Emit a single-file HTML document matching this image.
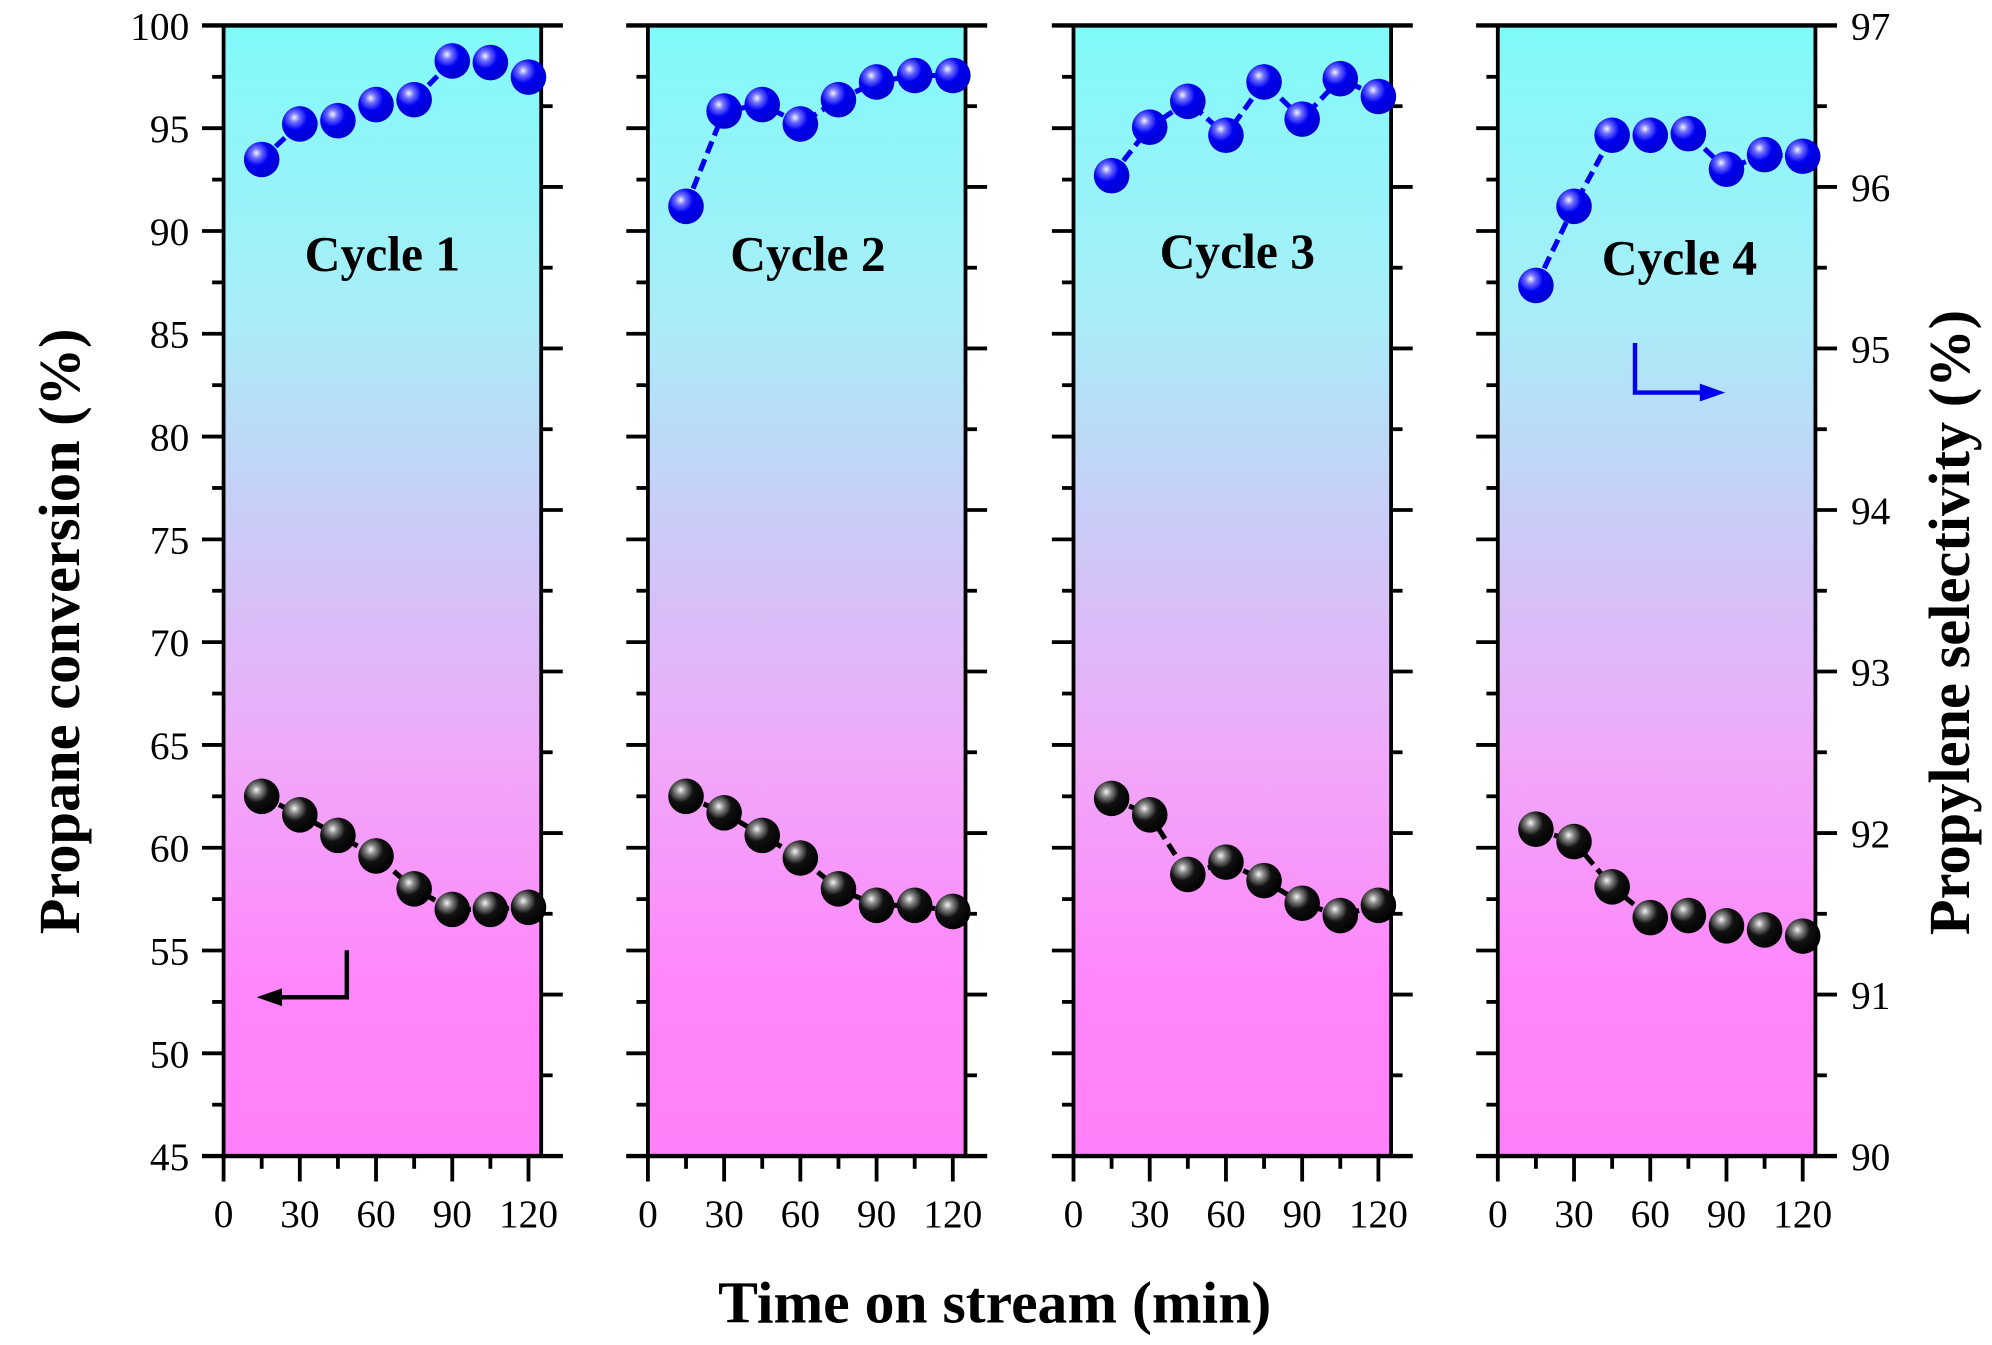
<!DOCTYPE html>
<html><head><meta charset="utf-8"><style>
html,body{margin:0;padding:0;background:#fff;}
svg{display:block;font-family:"Liberation Serif",serif;}
</style></head><body>
<svg id="chart" width="1992" height="1345" viewBox="0 0 1568 1058.7" xmlns="http://www.w3.org/2000/svg">
<defs>
<linearGradient id="bg" x1="0" y1="0" x2="0" y2="1">
<stop offset="0" stop-color="#80fafa"/>
<stop offset="0.25" stop-color="#a8eef8"/>
<stop offset="0.45" stop-color="#cccaf8"/>
<stop offset="0.65" stop-color="#f0a8f8"/>
<stop offset="0.85" stop-color="#ff86fc"/>
<stop offset="1" stop-color="#ff80fa"/>
</linearGradient>
<radialGradient id="ballK" cx="0.35" cy="0.32" r="0.7">
<stop offset="0" stop-color="#f4f4f4"/><stop offset="0.2" stop-color="#888"/><stop offset="0.5" stop-color="#111"/><stop offset="1" stop-color="#000"/>
</radialGradient>
<radialGradient id="ballB" cx="0.35" cy="0.32" r="0.7">
<stop offset="0" stop-color="#f4f4ff"/><stop offset="0.2" stop-color="#7070ff"/><stop offset="0.5" stop-color="#0000f0"/><stop offset="1" stop-color="#0000d0"/>
</radialGradient>
</defs>
<g id="plot"></g>
</svg>
<script>
const cycles = ["Cycle 1","Cycle 2","Cycle 3","Cycle 4"];
const times = [15,30,45,60,75,90,105,120];
const conversion1 = [62.5,61.6,60.6,59.6,58.0,57.0,57.0,57.1];
const conversion2 = [62.5,61.7,60.6,59.5,58.0,57.2,57.2,56.9];
const conversion3 = [62.4,61.6,58.7,59.3,58.4,57.3,56.7,57.2];
const conversion4 = [60.9,60.3,58.1,56.6,56.7,56.2,56.0,55.7];
const selectivity1 = [96.17,96.39,96.41,96.51,96.54,96.78,96.77,96.68];
const selectivity2 = [95.88,96.47,96.51,96.39,96.54,96.65,96.69,96.69];
const selectivity3 = [96.07,96.37,96.53,96.32,96.65,96.42,96.67,96.56];
const selectivity4 = [95.39,95.88,96.32,96.32,96.33,96.11,96.20,96.19];
const leftTicks = [45,50,55,60,65,70,75,80,85,90,95,100];
const rightTicks = [90,91,92,93,94,95,96,97];
const xTicks = [0,30,60,90,120];

const conv=[conversion1,conversion2,conversion3,conversion4];
const sel=[selectivity1,selectivity2,selectivity3,selectivity4];
const panelX=[176,510,845,1179], PW=250, TOP=20, BOT=910;
const labelDX=[125,126,129,143], labelY=[213,213,211,216];
const yL=v=>TOP+(100-v)*(BOT-TOP)/55;
const yR=v=>TOP+(97-v)*(BOT-TOP)/7;
const xS=(p,t)=>panelX[p]+t*2;
const NS="http://www.w3.org/2000/svg";
const g=document.getElementById('plot');
function mk(tag,attrs,parent){const e=document.createElementNS(NS,tag);for(const k in attrs)e.setAttribute(k,attrs[k]);(parent||g).appendChild(e);return e;}
function txt(s,attrs,parent){const e=mk('text',attrs,parent);e.textContent=s;return e;}

for(let p=0;p<4;p++){
  const x0=panelX[p], x1=x0+PW;
  const pg=mk('g',{});
  
  
  const bg=mk('rect',{x:x0,y:TOP,width:PW,height:BOT-TOP,fill:'url(#bg)'},pg);
  
  
  mk('line',{x1:x0,y1:TOP,x2:x0,y2:BOT,stroke:'#000','stroke-width':3},pg);
  mk('line',{x1:x1,y1:TOP,x2:x1,y2:BOT,stroke:'#000','stroke-width':3},pg);
  mk('line',{x1:x0-17,y1:TOP,x2:x1+17,y2:TOP,stroke:'#000','stroke-width':3.5},pg);
  mk('line',{x1:x0-17,y1:BOT,x2:x1+17,y2:BOT,stroke:'#000','stroke-width':3.5},pg);
  for(let v=45;v<=100;v+=2.5){const y=yL(v);const L=(v%5===0)?17:9;mk('line',{x1:x0-L,y1:y,x2:x0,y2:y,stroke:'#000','stroke-width':3},pg);}
  for(let v=90;v<=97;v+=0.5){const y=yR(v);const L=(Math.abs(v-Math.round(v))<1e-6)?17:9;mk('line',{x1:x1,y1:y,x2:x1+L,y2:y,stroke:'#000','stroke-width':3},pg);}
  for(let t=0;t<=120;t+=15){const x=xS(p,t);const L=(t%30===0)?20:10;mk('line',{x1:x,y1:BOT,x2:x,y2:BOT+L,stroke:'#000','stroke-width':3},pg);}
  xTicks.forEach(t=>{const e=txt(String(t),{x:xS(p,t),y:966,'font-size':31,'text-anchor':'middle'},pg);
    });
  const ct=txt(cycles[p],{x:x0+labelDX[p],y:labelY[p],'font-size':39,'font-weight':'bold','text-anchor':'middle'},pg);
  
  
  const cs=mk('g',{},pg);
  
  
  const ss=mk('g',{},pg);
  
  
  const cp=times.map((t,i)=>xS(p,t)+','+yL(conv[p][i])).join(' ');
  const sp=times.map((t,i)=>xS(p,t)+','+yR(sel[p][i])).join(' ');
  mk('polyline',{points:cp,fill:'none',stroke:'#000','stroke-width':4,'stroke-dasharray':'10,5'},cs);
  mk('polyline',{points:sp,fill:'none',stroke:'#0000f0','stroke-width':4,'stroke-dasharray':'10,5'},ss);
  times.forEach((t,i)=>{
    const a=mk('circle',{cx:xS(p,t),cy:yL(conv[p][i]),r:14,fill:'url(#ballK)'},cs);
    
    
    const b=mk('circle',{cx:xS(p,t),cy:yR(sel[p][i]),r:14,fill:'url(#ballB)'},ss);
    
    
  });
}
leftTicks.forEach(v=>{const e=txt(String(v),{x:149,y:yL(v)+11,'font-size':31,'text-anchor':'end'});
  });
rightTicks.forEach(v=>{const e=txt(String(v),{x:1457,y:yR(v)+11,'font-size':31,'text-anchor':'start'});
  });
const a1=mk('g',{});


mk('polyline',{points:'273,748 273,785 215,785',fill:'none',stroke:'#000','stroke-width':3.5},a1);
mk('polygon',{points:'202,785 222,778 222,792',fill:'#000'},a1);
const a2=mk('g',{});


mk('polyline',{points:'1287,270 1287,309 1345,309',fill:'none',stroke:'#0000f0','stroke-width':3.5},a2);
mk('polygon',{points:'1358,309 1338,302 1338,316',fill:'#0000f0'},a2);
const t1=txt('Propane conversion (%)',{x:0,y:0,'font-size':46,'font-weight':'bold','text-anchor':'middle',transform:'translate(62,497) rotate(-90)'});


const t2=txt('Propylene selectivity (%)',{x:0,y:0,'font-size':46,'font-weight':'bold','text-anchor':'middle',transform:'translate(1550,490) rotate(-90)'});


const t3=txt('Time on stream (min)',{x:783,y:1041,'font-size':47,'font-weight':'bold','text-anchor':'middle'});


</script>
</body></html>
